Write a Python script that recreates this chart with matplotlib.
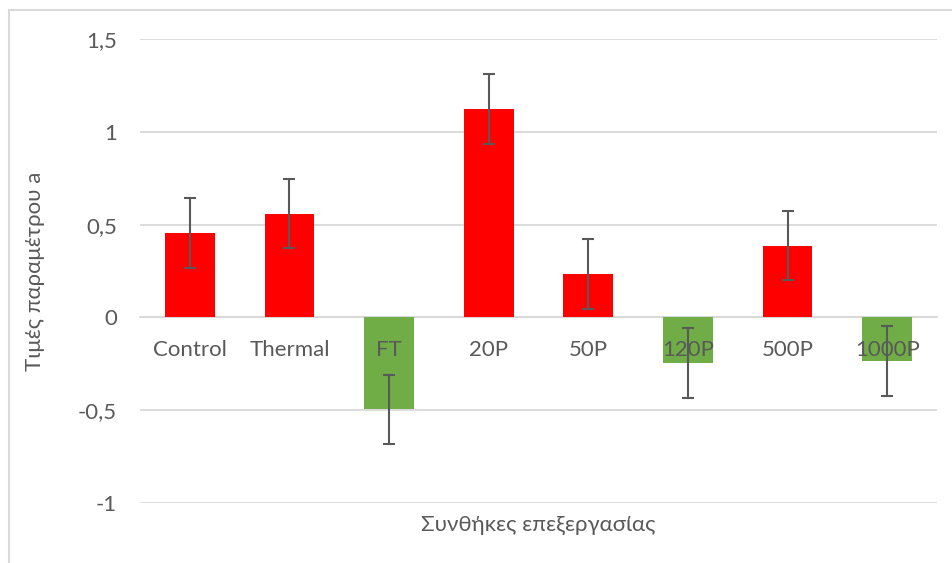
import matplotlib.pyplot as plt
from matplotlib.patches import Rectangle

# values
categories = ["Control", "Thermal", "FT", "20P", "50P", "120P", "500P", "1000P"]
values = [0.455, 0.558, -0.495, 1.123, 0.234, -0.245, 0.385, -0.235]
errors = [0.187, 0.185, 0.185, 0.188, 0.187, 0.188, 0.186, 0.188]
y_ticks = [-1, -0.5, 0, 0.5, 1, 1.5]
y_tick_labels = ["-1", "-0,5", "0", "0,5", "1", "1,5"]

RED = "#FF0000"
GREEN = "#70AD47"
TEXT = "#595959"
GRID = "#D9D9D9"

plt.rcParams["font.family"] = ["Lato", "DejaVu Sans"]

W, H = 953, 563
fig = plt.figure(figsize=(W / 100, H / 100), dpi=100)
ax = fig.add_axes([140 / W, 1 - 503 / H, (937 - 140) / W, (503 - 39) / H])

colors = [RED if v >= 0 else GREEN for v in values]
x = list(range(len(categories)))
ax.bar(x, values, width=0.5, color=colors, zorder=2)
ax.errorbar(x, values, yerr=errors, fmt="none", ecolor=TEXT, elinewidth=1.5,
            capsize=4.5, capthick=1.5, zorder=3)

ax.set_xlim(-0.5, len(categories) - 0.5)
ax.set_ylim(-1, 1.5)
ax.set_yticks(y_ticks)
ax.set_yticklabels(y_tick_labels)
ax.yaxis.grid(True, color=GRID, linewidth=1.3)
ax.set_axisbelow(True)
# category labels sit above the bars but under the error bars
ax.xaxis.set_zorder(2.5)

ax.set_xticks(x)
ax.set_xticklabels(categories)
ax.spines["bottom"].set_position(("data", 0))
ax.spines["bottom"].set_color(GRID)
ax.spines["bottom"].set_linewidth(1.3)
ax.spines["bottom"].set_zorder(1)
for s in ("top", "right", "left"):
    ax.spines[s].set_visible(False)

ax.tick_params(axis="x", length=0, pad=16, labelsize=16, labelcolor=TEXT)
ax.tick_params(axis="y", length=0, pad=16.5, labelsize=16, labelcolor=TEXT)

ax.set_xlabel("Συνθήκες επεξεργασίας", fontsize=16, color=TEXT)
ax.xaxis.set_label_coords(0.5, -0.047)
ax.xaxis.label.set_va("center")
ax.set_ylabel("Τιμές παραμέτρου a", fontsize=16, color=TEXT)
ax.yaxis.set_label_coords(-(140 - 35) / (937 - 140), 0.5)
ax.yaxis.label.set_va("center")

# chart area border, as in the Excel export
fig.patches.append(Rectangle((9 / W, -0.1), 1.2, 1 - 10 / H + 0.1, transform=fig.transFigure,
                             fill=False, edgecolor=GRID, linewidth=1.5))

fig.savefig("out.png", dpi=100)
